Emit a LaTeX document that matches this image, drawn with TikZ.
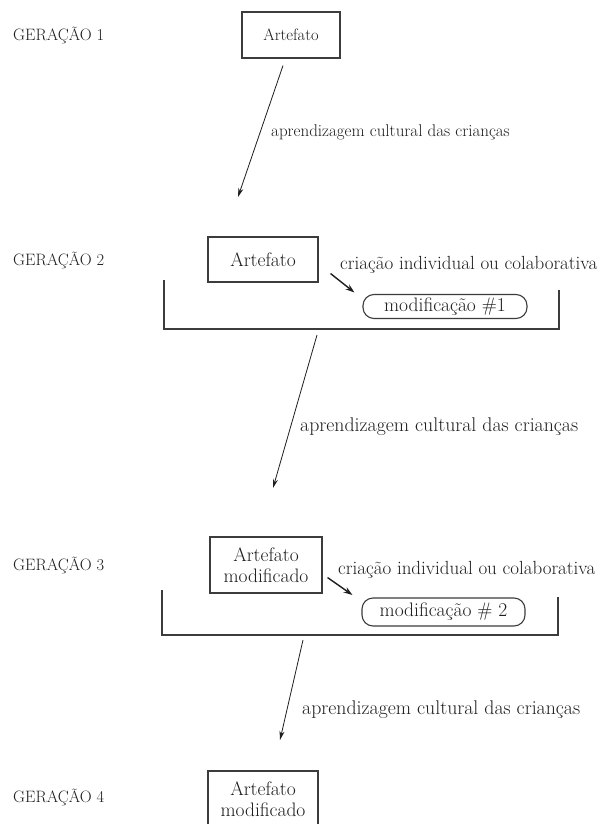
\documentclass[tikz,border=0pt]{standalone}
\usepackage{tikz}
\usetikzlibrary{arrows.meta,positioning,calc}
\definecolor{LineGray}{HTML}{3C3C3C}
\definecolor{InkGray}{HTML}{1E1E1E}

\begin{document}
\begin{tikzpicture}[
    x=1pt, y=-1pt,
    every node/.style={text=InkGray},
    box/.style={rectangle, draw=LineGray, line width=1.1pt, align=center, inner sep=1pt, font=\fontsize{19.5}{21}\selectfont},
    modbox/.style={rectangle, rounded corners=11pt, draw=LineGray, line width=1.1pt, inner sep=1pt, font=\fontsize{19.5}{20}\selectfont},
    gen/.style={anchor=west, inner sep=0pt, font=\fontsize{16.5}{18}\selectfont},
    lbl/.style={anchor=west, inner sep=0pt, font=\fontsize{19}{20}\selectfont},
    arrow/.style={-{Stealth[length=9pt,width=5pt]}, line width=0.8pt, draw=InkGray},
    thickarrow/.style={-{Stealth[length=9pt,width=6pt]}, line width=1.4pt, draw=InkGray},
    bracket/.style={draw=LineGray, line width=1.1pt}
  ]
  \fill[white] (0,0) rectangle (601,824);
  \useasboundingbox (0,0) rectangle (601,824);

  % Geracao 1
  \node[gen] (g1) at (13,35) {GERAÇÃO 1};
  \node[box, minimum width=98pt, minimum height=46pt, font=\fontsize{16.5}{18}\selectfont] (art1) at (291,35) {Artefato};

  % Geracao 2
  \node[gen] (g2) at (13,260) {GERAÇÃO 2};
  \node[box, minimum width=110pt, minimum height=45pt] (art2) at (263,259.5) {Artefato};
  \node[lbl] (cri1) at (340,265) {criação individual ou colaborativa};
  \node[modbox, minimum width=164pt, minimum height=24pt] (mod1) at (445,306.5) {modificação \#1};
  \draw[bracket] (164,280) |- (559,329) -- (559,290);

  % Geracao 3
  \node[gen] (g3) at (13,565) {GERAÇÃO 3};
  \node[box, minimum width=112pt, minimum height=56pt] (art3) at (266,565) {Artefato\\modificado};
  \node[lbl] (cri2) at (338,570) {criação individual ou colaborativa};
  \node[modbox, minimum width=163pt, minimum height=28pt] (mod2) at (443.5,612) {modificação \# 2};
  \draw[bracket] (162,590) |- (558,635) -- (558,597);

  % Geracao 4
  \node[gen] (g4) at (13,797) {GERAÇÃO 4};
  \node[box, minimum width=110pt, minimum height=56pt] (art4) at (263,799) {Artefato\\modificado};

  % aprendizagem cultural
  \coordinate (tip1) at (238,197);
  \coordinate (tip2) at (273,488);
  \coordinate (tip3) at (280,740);
  \draw[arrow] ($(art1.south)+(-8,7)$) -- (tip1);
  \draw[arrow] (317,335) -- (tip2);
  \draw[arrow] (303,640) -- (tip3);
  \node[lbl, font=\fontsize{17}{18}\selectfont] (apr1) at (271,132) {aprendizagem cultural das crianças};
  \node[lbl, font=\fontsize{19.8}{20}\selectfont] (apr2) at (300,427) {aprendizagem cultural das crianças};
  \node[lbl, font=\fontsize{19.8}{20}\selectfont] (apr3) at (302,710) {aprendizagem cultural das crianças};

  % criacao -> modificacao
  \draw[thickarrow] ($(art2.south east)+(12,-9)$) -- ($(mod1.west)+(-8,-14)$);
  \draw[thickarrow] ($(art3.south east)+(5,-16)$) -- ($(mod2.west)+(-9,-17)$);

\end{tikzpicture}
\end{document}
